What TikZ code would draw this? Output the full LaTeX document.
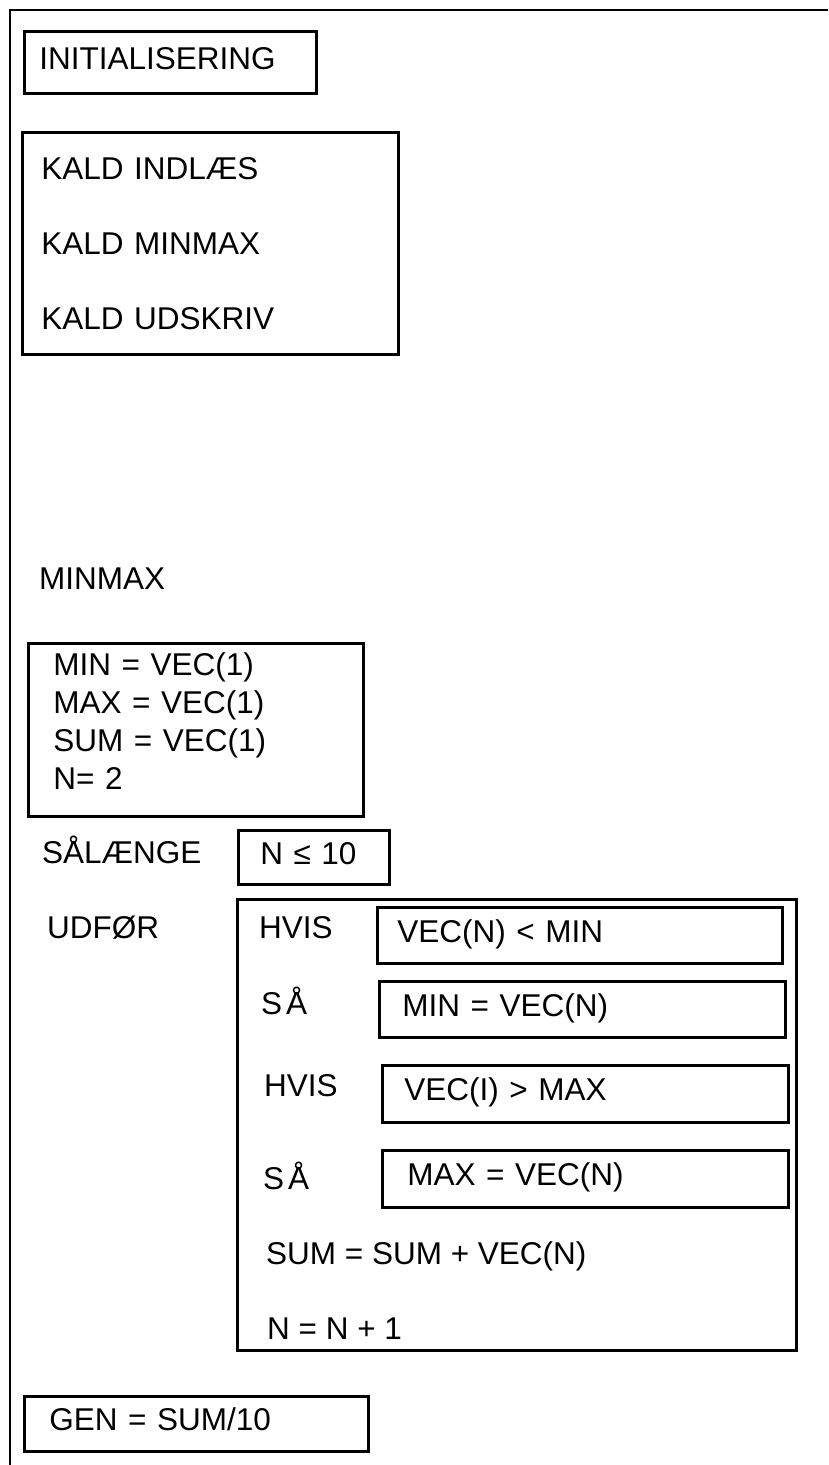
\documentclass[tikz,border=0pt]{standalone}
\usepackage{fontspec}
\setmainfont{Liberation Sans}
\tikzset{
  blok/.style={draw, line width=2.8pt, anchor=north west, inner ysep=0pt, align=left},
  enlinje/.style={blok, text height=22pt, text depth=8pt},
  tekst/.style={anchor=base west, inner sep=0pt},
}
\begin{document}
\begin{tikzpicture}[x=1pt, y=-1pt, font=\fontsize{31.5}{38}\selectfont]
    \useasboundingbox (0,0) rectangle (828,1465);
    % ramme
    \draw[line width=2.8pt] (828,10) -| (10,1465);

    % hovedprogram
    \node[enlinje, minimum height=62pt, inner xsep=15pt, text width=262pt] (init) at (23,30) {INITIALISERING};
    \node[blok, minimum height=222pt, inner xsep=19pt, text width=338pt,
          font=\fontsize{31.5}{75}\selectfont] (kald) at (21,131) {KALD INDLÆS\\KALD MINMAX\\KALD UDSKRIV};

    % underprogram MINMAX
    \node[tekst] (minmax) at (39,589) {MINMAX};
    \node[blok, minimum height=173pt, inner xsep=25pt, text width=285pt,
          text height=23pt, text depth=132pt] (start) at (27,642) {MIN = VEC(1)\\MAX = VEC(1)\\SUM = VEC(1)\\N= 2};

    \node[tekst] (saalaenge) at (42,863) {SÅLÆNGE};
    \node[enlinje, minimum height=54pt, inner xsep=22pt, text width=107pt] (betingelse) at (237,829) {N ≤ 10};

    \node[tekst] (udfoer) at (47,938) {UDFØR};
    \node[blok, minimum width=559pt, minimum height=451pt, inner sep=0pt] (loekke) at (236,898) {};

    % loekkens krop
    \node[tekst] (hvisA) at (259,938) {HVIS};
    \node[enlinje, minimum height=56pt, inner xsep=20pt, text width=365pt] (testA) at (376,906) {VEC(N) < MIN};
    \node[tekst] (saaA) at (261,1014) {S\kern4pt Å};
    \node[enlinje, minimum height=56pt, inner xsep=23pt, text width=360pt] (tildelA) at (378,980) {MIN = VEC(N)};
    \node[tekst] (hvisB) at (264,1096) {HVIS};
    \node[enlinje, minimum height=57pt, inner xsep=22pt, text width=362pt] (testB) at (381,1064) {VEC(I) > MAX};
    \node[tekst] (saaB) at (263,1189) {S\kern4pt Å};
    \node[enlinje, minimum height=57pt, inner xsep=25pt, text width=356pt] (tildelB) at (381,1149) {MAX = VEC(N)};
    \node[tekst] (sum) at (266,1264) {SUM = SUM + VEC(N)};
    \node[tekst] (taeller) at (267,1339) {N = N + 1};

    \node[enlinje, minimum height=55pt, inner xsep=25pt, text width=294pt] (gen) at (23,1395) {GEN = SUM/10};
\end{tikzpicture}
\end{document}
